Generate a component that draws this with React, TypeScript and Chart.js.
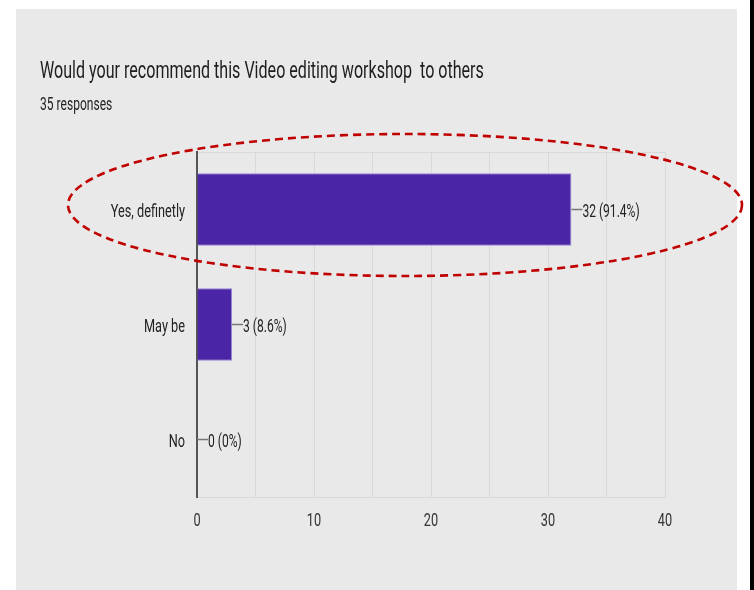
import React, { useEffect, useRef } from "react";
import { Chart, registerables } from "chart.js";

Chart.register(...registerables);

const TITLE = "Would your recommend this Video editing workshop  to others";
const SUBTITLE = "35 responses";
const categories = ["Yes, definetly", "May be", "No"];
const counts = [32, 3, 0];
const totalResponses = 35;
const xTicks = [0, 10, 20, 30, 40];

const FONT = "Roboto, 'Liberation Sans', sans-serif";
const SQUEEZE = 0.67;

function pctLabel(v: number) {
  const p = (v / totalResponses) * 100;
  const s = p.toFixed(1).replace(/\.0$/, "");
  return `${v} (${s}%)`;
}

function narrowText(
  ctx: CanvasRenderingContext2D,
  text: string,
  x: number,
  y: number,
  size: number,
  align: CanvasTextAlign,
  color: string
) {
  ctx.save();
  ctx.translate(x, y);
  ctx.scale(SQUEEZE, 1);
  ctx.font = `${size}px ${FONT}`;
  ctx.fillStyle = color;
  ctx.textAlign = align;
  ctx.textBaseline = "alphabetic";
  ctx.fillText(text, 0, 0);
  ctx.restore();
}

const textPlugin = {
  id: "narrowTexts",
  afterDatasetsDraw(chart: any) {
    const ctx = chart.ctx;
    const meta = chart.getDatasetMeta(0);
    const xs = chart.scales.x;
    const ys = chart.scales.y;
    narrowText(ctx, TITLE, 40, 78, 24, "left", "#1e1e1e");
    narrowText(ctx, SUBTITLE, 40, 110, 18, "left", "#222");
    categories.forEach((c, i) => {
      const y = ys.getPixelForValue(i);
      narrowText(ctx, c, ys.right - 12, y + 7, 19, "right", "#222");
    });
    xTicks.forEach((t) => {
      const x = xs.getPixelForValue(t);
      narrowText(ctx, String(t), x, xs.top + 29, 19, "center", "#333");
    });
    meta.data.forEach((bar: any, i: number) => {
      const x = bar.x;
      const y = bar.y;
      ctx.save();
      ctx.strokeStyle = "#777";
      ctx.lineWidth = 1.5;
      ctx.beginPath();
      ctx.moveTo(x, y);
      ctx.lineTo(x + 11, y);
      ctx.stroke();
      ctx.restore();
      narrowText(ctx, pctLabel(counts[i]), x + 11, y + 7, 18, "left", "#222");
    });
  },
};

const ellipsePlugin = {
  id: "highlightEllipse",
  afterDraw(chart: any) {
    const ctx = chart.ctx;
    ctx.save();
    ctx.strokeStyle = "#c00000";
    ctx.lineWidth = 2.6;
    ctx.setLineDash([8, 5]);
    ctx.beginPath();
    ctx.ellipse(405, 205, 337, 71, 0, 0, Math.PI * 2);
    ctx.stroke();
    ctx.restore();
  },
};

export default function App() {
  const ref = useRef<HTMLCanvasElement | null>(null);

  useEffect(() => {
    if (!ref.current) return;
    const chart = new Chart(ref.current, {
      type: "bar",
      data: {
        labels: categories,
        datasets: [
          {
            data: counts,
            backgroundColor: "#4a26a6",
            borderColor: "#9585d4",
            borderWidth: 1,
            borderSkipped: "left",
            barPercentage: 0.63,
            categoryPercentage: 1,
          },
        ],
      },
      options: {
        indexAxis: "y",
        animation: false,
        responsive: false,
        maintainAspectRatio: false,
        layout: { padding: { top: 152, right: 89, bottom: 50, left: 0 } },
        plugins: {
          legend: { display: false },
          tooltip: { enabled: false },
          title: { display: false },
        },
        scales: {
          x: {
            min: 0,
            max: 40,
            ticks: { stepSize: 5, display: false },
            grid: { color: "#d9d9d9", lineWidth: 1, drawTicks: false },
            border: { color: "#d9d9d9", width: 1 },
            afterFit: (s: any) => {
              s.height = 43;
            },
          },
          y: {
            ticks: { display: false },
            grid: {
              drawTicks: false,
              color: (c: any) => (c.index === 0 ? "#d9d9d9" : "rgba(0,0,0,0)"),
            },
            border: { color: "#555", width: 2 },
            afterFit: (s: any) => {
              s.width = 197;
            },
          },
        },
      },
      plugins: [textPlugin, ellipsePlugin],
    });
    return () => chart.destroy();
  }, []);

  return (
    <div
      style={{
        position: "absolute",
        left: 0,
        top: 0,
        width: 754,
        height: 590,
        background: "#ffffff",
        overflow: "hidden",
      }}
    >
      <div
        style={{
          position: "absolute",
          left: 16,
          top: 9,
          width: 721,
          height: 581,
          background: "#e9e9e9",
        }}
      />
      <div
        style={{
          position: "absolute",
          left: 750,
          top: 0,
          width: 4,
          height: 590,
          background: "#000",
        }}
      />
      <canvas
        ref={ref}
        width={754}
        height={590}
        style={{ position: "absolute", left: 0, top: 0, width: 754, height: 590 }}
      />
    </div>
  );
}
